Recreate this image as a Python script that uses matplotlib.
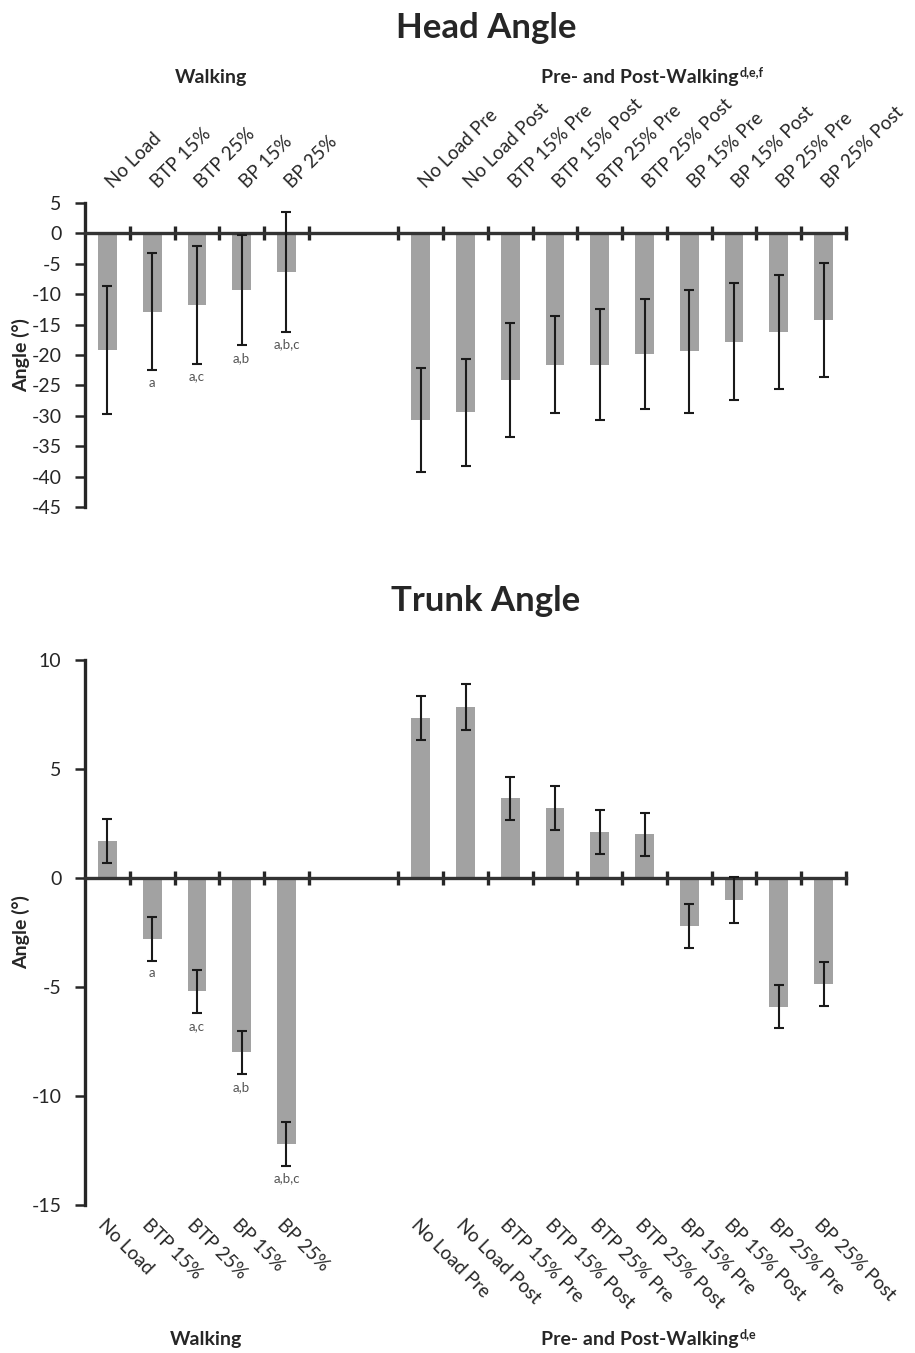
import matplotlib
matplotlib.use('Agg')
import matplotlib.pyplot as plt
import matplotlib.transforms as mtransforms
import numpy as np

plt.rcParams['font.family'] = ['Lato', 'DejaVu Sans']

walking_labels = ['No Load', 'BTP 15%', 'BTP 25%', 'BP 15%', 'BP 25%']
prepost_labels = ['No Load Pre', 'No Load Post', 'BTP 15% Pre', 'BTP 15% Post',
                  'BTP 25% Pre', 'BTP 25% Post', 'BP 15% Pre', 'BP 15% Post',
                  'BP 25% Pre', 'BP 25% Post']

head_walk_mean = [-19.2, -12.9, -11.7, -9.3, -6.3]
head_walk_sd = [10.5, 9.6, 9.7, 9.1, 9.9]
head_pp_mean = [-30.7, -29.4, -24.1, -21.6, -21.6, -19.8, -19.4, -17.8, -16.2, -14.3]
head_pp_sd = [8.5, 8.8, 9.4, 8.0, 9.1, 9.0, 10.1, 9.6, 9.4, 9.4]

trunk_walk_mean = [1.7, -2.8, -5.2, -8.0, -12.2]
trunk_walk_sd = [1.0, 1.0, 1.0, 1.0, 1.0]
trunk_pp_mean = [7.35, 7.85, 3.65, 3.2, 2.1, 2.0, -2.2, -1.0, -5.9, -4.85]
trunk_pp_sd = [1.0, 1.05, 1.0, 1.0, 1.0, 1.0, 1.0, 1.05, 1.0, 1.0]

walk_letters = ['', 'a', 'a,c', 'a,b', 'a,b,c']

W, H = 915, 1353
fig = plt.figure(figsize=(W / 100, H / 100), dpi=100)
INK = '#262626'


def px_axes(left, top, right, bottom):
    return fig.add_axes([left / W, 1 - bottom / H, (right - left) / W, (bottom - top) / H])


def draw_panel(ax, walk_mean, walk_sd, pp_mean, pp_sd, ylim, yticks, labels_on_top):
    walk_x = np.arange(len(walk_mean)) + 0.5
    pp_x = np.arange(len(pp_mean)) + 7.5
    x = np.concatenate([walk_x, pp_x])
    means = np.concatenate([walk_mean, pp_mean])
    sds = np.concatenate([walk_sd, pp_sd])
    ax.bar(x, means, width=0.42, color='#a2a2a2', edgecolor='none', zorder=2)
    ax.errorbar(x, means, yerr=sds, fmt='none', ecolor='#1a1a1a', elinewidth=1.5,
                capsize=3.8, capthick=1.5, zorder=4)

    for xi, m, s, lab in zip(walk_x, walk_mean, walk_sd, walk_letters):
        if lab:
            ax.annotate(lab, (xi, m - s), xytext=(0, -9), textcoords='offset points',
                        ha='center', va='center', fontsize=9.5, color='#555555')

    ax.set_xlim(0, 17)
    ax.set_ylim(*ylim)
    ax.set_yticks(yticks)
    ax.set_yticklabels([str(t) for t in yticks], fontsize=14, color=INK)
    ax.tick_params(axis='y', direction='out', length=7, width=1.8, color=INK, pad=10)
    for side in ['top', 'right']:
        ax.spines[side].set_visible(False)
    ax.spines['left'].set_linewidth(2.4)
    ax.spines['left'].set_color(INK)
    ax.spines['bottom'].set_position(('data', 0))
    ax.spines['bottom'].set_linewidth(2.4)
    ax.spines['bottom'].set_color('#333333')
    ax.spines['bottom'].set_zorder(3)
    ax.set_xticks([1, 2, 3, 4, 5, 7, 8, 9, 10, 11, 12, 13, 14, 15, 16, 17])
    ax.set_xticklabels([])
    ax.tick_params(axis='x', direction='inout', length=10, width=2.4, color=INK)
    ax.set_ylabel('Angle (°)', fontsize=14, fontweight='bold', labelpad=1, color=INK)

    trans = mtransforms.blended_transform_factory(ax.transData, ax.transAxes)
    names = walking_labels + prepost_labels
    for xi, name in zip(x, names):
        if labels_on_top:
            ax.text(xi + 0.12, 1.045, name, transform=trans, rotation=45,
                    rotation_mode='anchor', ha='left', va='baseline',
                    fontsize=13.5, color=INK)
        else:
            ax.text(xi - 0.02, -0.02, name, transform=trans, rotation=-45,
                    rotation_mode='anchor', ha='left', va='top',
                    fontsize=13.5, color=INK)


def group_label(x, y, text, sup):
    t = fig.text(x / W, 1 - y / H, text, ha='center', va='center', fontsize=14,
                 fontweight='bold', color=INK)
    fig.canvas.draw()
    bb = t.get_window_extent(renderer=fig.canvas.get_renderer())
    if sup:
        fig.text(bb.x1 / W + 0.001, bb.y1 / H - 0.002, sup, ha='left', va='center',
                 fontsize=9, fontweight='bold', color=INK)


ax_head = px_axes(85, 203, 846, 507)
draw_panel(ax_head, head_walk_mean, head_walk_sd, head_pp_mean, head_pp_sd,
           (-45, 5), list(range(5, -50, -5)), True)
fig.text(486 / W, 1 - 28 / H, 'Head Angle', ha='center', va='center',
         fontsize=25, fontweight='bold', color=INK)
group_label(211, 78, 'Walking', '')
group_label(640, 78, 'Pre- and Post-Walking', 'd,e,f')

ax_trunk = px_axes(85, 660, 846, 1205)
draw_panel(ax_trunk, trunk_walk_mean, trunk_walk_sd, trunk_pp_mean, trunk_pp_sd,
           (-15, 10), [10, 5, 0, -5, -10, -15], False)
fig.text(486 / W, 1 - 601 / H, 'Trunk Angle', ha='center', va='center',
         fontsize=25, fontweight='bold', color=INK)
group_label(206, 1340, 'Walking', '')
group_label(640, 1340, 'Pre- and Post-Walking', 'd,e')

fig.savefig('out.png', dpi=100)
